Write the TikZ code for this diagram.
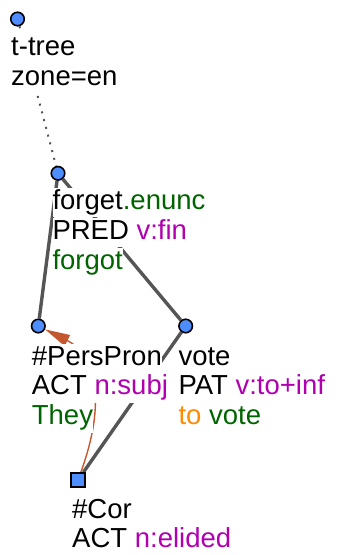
\documentclass[tikz,border=0pt]{standalone}
\usepackage{fontspec}
\setmainfont{Liberation Sans}
\usepackage{xcolor}
\definecolor{nodeblue}{HTML}{4D8DFF}
\definecolor{edgegray}{HTML}{555555}
\definecolor{lemgreen}{HTML}{006400}
\definecolor{fmtpurple}{HTML}{B000B0}
\definecolor{auxorange}{HTML}{FF8C00}
\definecolor{corefred}{HTML}{C4572E}
\usepackage{tikz}
\usetikzlibrary{positioning, arrows.meta, backgrounds, calc}
\newcommand{\lem}[1]{\textcolor{lemgreen}{#1}}
\newcommand{\fmt}[1]{\textcolor{fmtpurple}{#1}}
\newcommand{\aux}[1]{\textcolor{auxorange}{#1}}

\begin{document}
\begin{tikzpicture}[x=1pt, y=-1pt, font=\fontsize{27.5}{30}\selectfont,
  tnode/.style={circle, draw, line width=1.6pt, fill=nodeblue, minimum size=13.5pt, inner sep=0pt},
  gnode/.style={rectangle, draw, line width=1.6pt, fill=nodeblue, minimum size=14pt, inner sep=0pt},
  tline/.style={fill=white, inner sep=0pt, text height=21.5pt, text depth=8pt},
  tedge/.style={draw=edgegray, line width=3.4pt},
  coref/.style={draw=corefred, line width=1.4pt, -{Triangle[length=25pt, width=12pt]}}]
  \useasboundingbox (0,0) rectangle (338,555);

  % tree nodes
  \node[tnode] (root) at (17.5,19) {};
  \node[tnode] (forget) at (58,173.3) {};
  \node[tnode] (perspron) at (38.3,326) {};
  \node[tnode] (vote) at (185.7,326) {};
  \node[gnode] (cor) at (78,480) {};

  % labels, one white box per line
  \node[tline, anchor=base west] (root1) at ($(root)+(-6.5,36.5)$) {t-tree};
  \node[tline, below right=0pt of root1.south west] (root2) {zone=en};

  \node[tline, anchor=base west] (forget1) at ($(forget)+(-5.7,36)$) {forget\lem{.enunc}};
  \node[tline, below right=0pt of forget1.south west] (forget2) {PRED \fmt{v:fin}};
  \node[tline, below right=0pt of forget2.south west] (forget3) {\lem{forgot}};

  \node[tline, anchor=base west] (perspron1) at ($(perspron)+(-6.6,39)$) {\#PersPron};
  \node[tline, below right=0pt of perspron1.south west] (perspron2) {ACT \fmt{n:subj}};
  \node[tline, below right=0pt of perspron2.south west] (perspron3) {\lem{They}};

  \node[tline, anchor=base west] (vote1) at ($(vote)+(-7.4,39)$) {vote};
  \node[tline, below right=0pt of vote1.south west] (vote2) {PAT \fmt{v:to+inf}};
  \node[tline, below right=0pt of vote2.south west] (vote3) {\aux{to} \lem{vote}};

  \node[tline, anchor=base west] (cor1) at ($(cor)+(-6,38)$) {\#Cor};
  \node[tline, below right=0pt of cor1.south west] (cor2) {ACT \fmt{n:elided}};

  % edges behind the labels
  \begin{scope}[on background layer]
    \draw[edgegray, line width=2pt, dash pattern=on 2pt off 6pt] (root) -- (forget);
    \draw[tedge] (forget) -- (perspron);
    \draw[tedge] (forget) -- (vote);
    \draw[tedge] (vote) -- (cor);
    \draw[coref] (cor) .. controls +(32,-88) and +(52,26) .. (perspron);
  \end{scope}
\end{tikzpicture}
\end{document}
